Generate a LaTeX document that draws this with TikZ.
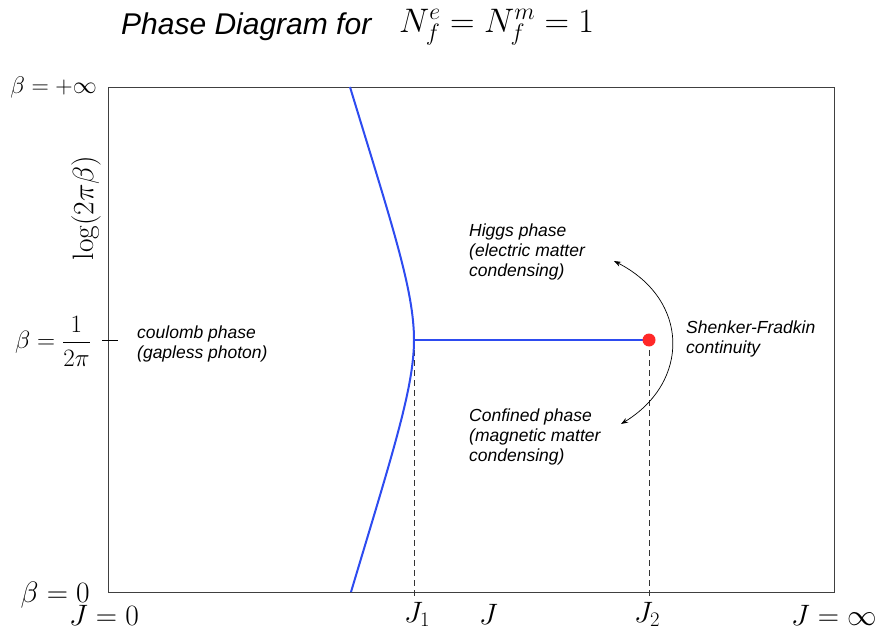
\RequirePackage{fix-cm}
\documentclass[tikz,border=0pt]{standalone}
\usepackage{amsmath}
\usepackage{fontspec}
\setsansfont{Liberation Sans}
\usetikzlibrary{arrows.meta}
\definecolor{phaseblue}{RGB}{45,75,240}
\definecolor{critred}{RGB}{255,40,40}
\begin{document}
\begin{tikzpicture}[x=1pt,y=-1pt,
  lbl/.style={font=\sffamily\itshape\fontsize{17.5}{20}\selectfont, align=left, anchor=west, inner sep=0pt},
  mth/.style={font=\fontsize{29.5}{32}\selectfont, inner sep=0pt},
  phase/.style={draw=phaseblue, line width=2pt},
  guide/.style={dash pattern=on 6pt off 4pt, line width=0.6pt, draw=black!80},
  frame/.style={draw=black!75, line width=0.9pt},
]
\useasboundingbox (0,0) rectangle (875,628);

% title
\node[font=\sffamily\itshape\fontsize{30}{32}\selectfont, anchor=west, inner sep=0pt] (title) at (121,27) {Phase Diagram for};
\node[font=\fontsize{34}{38}\selectfont, anchor=west, inner sep=0pt] (titlemath) at (399,27) {$N_f^e = N_f^m = 1$};

% frame
\draw[frame] (108,87) rectangle (834,592);

% key points
\coordinate (top) at (350,87);
\coordinate (cusp) at (414,340);
\coordinate (bot) at (351,592);
\coordinate (crit) at (649,340);
\coordinate (j1foot) at (414,599);
\coordinate (j2foot) at (649,599);
\coordinate (tickL) at (102,340);
\coordinate (tickR) at (118,340);

% dashed guides
\draw[guide] (cusp) -- (j1foot);
\draw[guide] (crit) -- (j2foot);

% phase boundaries
\draw[phase] (top) .. controls (392,225) and (414,290) .. (cusp);
\draw[phase] (cusp) .. controls (414,388) and (392,455) .. (bot);
\draw[phase, line width=2.4pt] (cusp) -- (crit);
\fill[critred] (crit) circle (6.5);

% tick
\draw[line width=1pt] (tickL) -- (tickR);

% axis labels
\node[mth, font=\fontsize{24}{28}\selectfont, anchor=east] (binf) at (97,88) {$\beta=+\infty$};
\node[mth, font=\fontsize{25}{28}\selectfont, anchor=east] (bhalf) at (91,341) {$\beta=\dfrac{1}{2\pi}$};
\node[mth, anchor=base east] (bzero) at (90,602) {$\beta=0$};
\node[mth, rotate=90] (logb) at (86,208) {$\log(2\pi\beta)$};
\node[mth, anchor=base] (jzero) at (104,625) {$J=0$};
\node[mth, anchor=base west] (jone) at (404,622) {$J_1$};
\node[mth, anchor=base west] (jlab) at (479,624) {$J$};
\node[mth, anchor=base west] (jtwo) at (634,622) {$J_2$};
\node[mth, anchor=base] (jinf) at (834,625) {$J=\infty$};

% phase labels
\node[lbl] (coulomb) at (137,344) {coulomb phase\\(gapless photon)};
\node[lbl] (higgs) at (469,252) {Higgs phase\\(electric matter\\condensing)};
\node[lbl] (confined) at (469,437) {Confined phase\\(magnetic matter\\condensing)};
\node[lbl] (sf) at (686,339) {Shenker-Fradkin\\continuity};

% continuity arrow
\coordinate (arrTop) at (614,261);
\coordinate (arrBot) at (621,424);
\draw[line width=0.7pt, {Stealth[length=7pt,width=5pt]}-{Stealth[length=7pt,width=5pt]}] (arrTop) .. controls (690,300) and (690,382) .. (arrBot);
\end{tikzpicture}
\end{document}
